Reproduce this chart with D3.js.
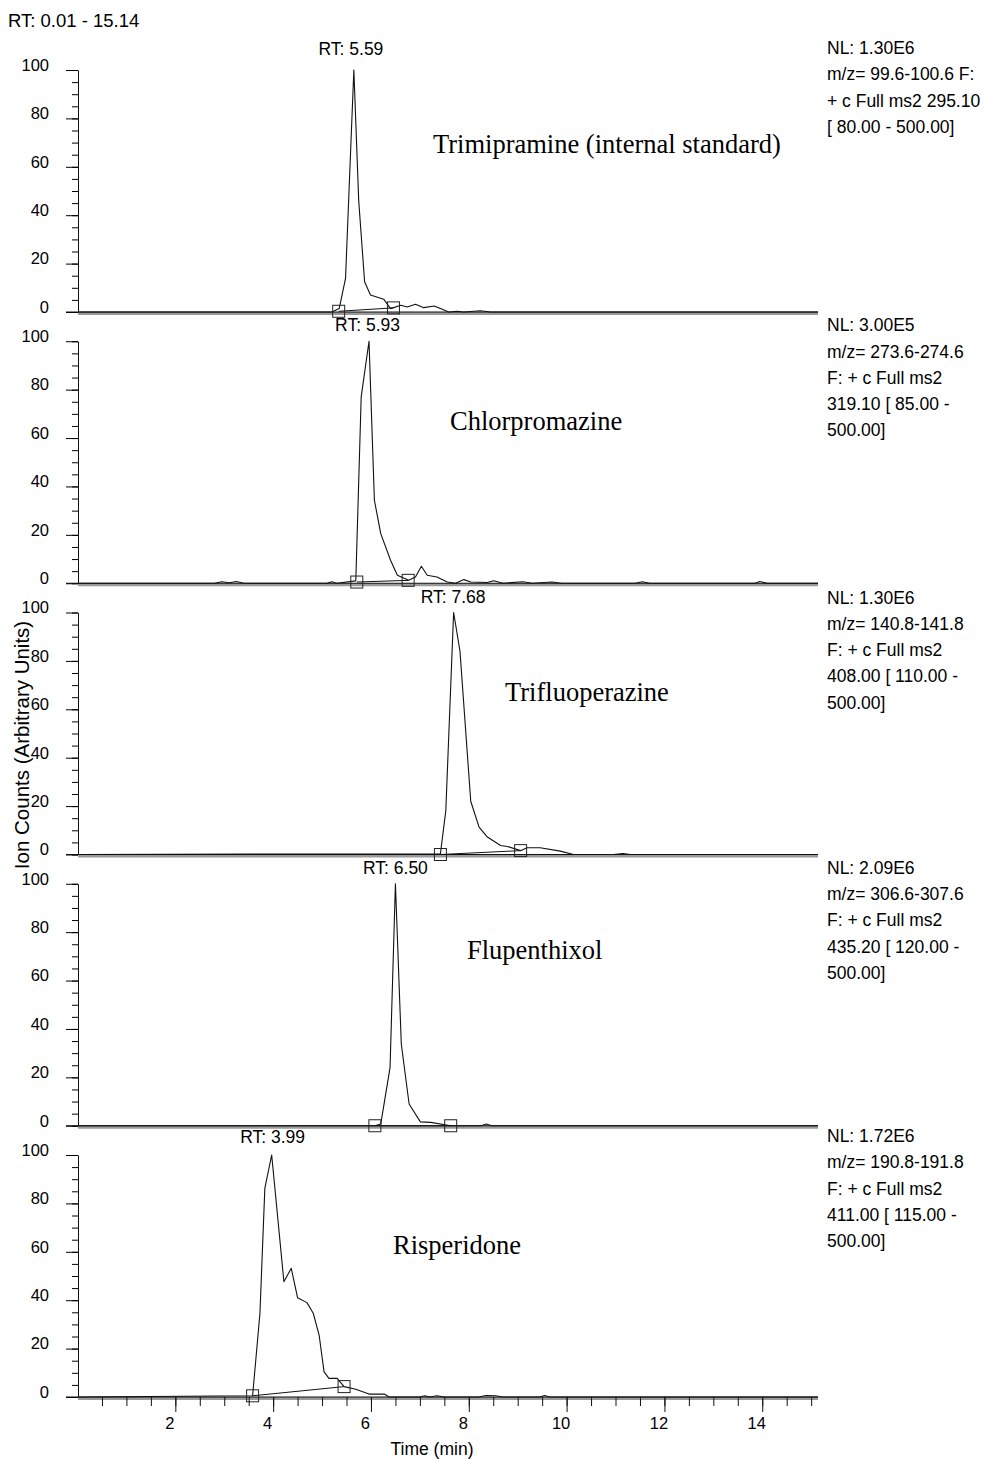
<!DOCTYPE html>
<html>
<head>
<meta charset="utf-8">
<script src="https://cdn.jsdelivr.net/npm/d3@7/dist/d3.min.js"></script>
<style>
    body { margin: 0; background: #fff; }
    svg { display: block; }
    .trace { fill: none; stroke: #111; stroke-width: 1.1; stroke-linejoin: round; }
    .baseBand { stroke: #9a9a9a; stroke-width: 3; }
    .baseLine { stroke: #111; stroke-width: 1; }
    .intLine { stroke: #111; stroke-width: 1; }
    .marker { fill: none; stroke: #222; stroke-width: 1; }
    .sans { font-family: 'Liberation Sans', Arial, sans-serif; font-size: 17.5px; fill: #000; }
    .tick-label { font-size: 16.5px; }
    .axis-title { font-size: 20.5px; }
    .range-title { font-size: 18.5px; }
    .serif { font-family: 'Liberation Serif', 'Times New Roman', serif; font-size: 26.5px; fill: #000; }
</style>
</head>
<body>
<script>
//data
var timeRange = [0.01, 15.14];
var compoundNames = ['Trimipramine (internal standard)', 'Chlorpromazine', 'Trifluoperazine', 'Flupenthixol', 'Risperidone'];
var retentionTimes = [5.59, 5.93, 7.68, 6.50, 3.99];
var nlTexts = [
    ['NL: 1.30E6', 'm/z= 99.6-100.6 F:', '+ c Full ms2 295.10', '[ 80.00 - 500.00]'],
    ['NL: 3.00E5', 'm/z= 273.6-274.6', 'F: + c Full ms2', '319.10 [ 85.00 -', '500.00]'],
    ['NL: 1.30E6', 'm/z= 140.8-141.8', 'F: + c Full ms2', '408.00 [ 110.00 -', '500.00]'],
    ['NL: 2.09E6', 'm/z= 306.6-307.6', 'F: + c Full ms2', '435.20 [ 120.00 -', '500.00]'],
    ['NL: 1.72E6', 'm/z= 190.8-191.8', 'F: + c Full ms2', '411.00 [ 115.00 -', '500.00]']
];
var yMajorTicks = [0, 20, 40, 60, 80, 100];
var yMinorTicks = d3.range(0, 101, 5);
var xMajorTicks = [2, 4, 6, 8, 10, 12, 14];
var xMinorTicks = d3.range(0.5, 15.01, 0.5);

// [time (min), relative abundance]
var trimipramine = [
    [0.01, 0], [5.2, 0], [5.35, 1.4], [5.48, 13.9], [5.65, 100], [5.75, 45.8], [5.87, 12.5],
    [5.99, 7], [6.26, 5.3], [6.40, 1.4], [6.61, 2.8], [6.74, 2.1], [6.91, 3.2], [7.08, 1.8],
    [7.29, 2.5], [7.42, 1.4], [7.59, 0], [7.76, 0.3], [7.90, 0], [8.24, 0.5], [8.44, 0], [15.14, 0]
];
var chlorpromazine = [
    [0.01, 0], [2.8, 0], [2.95, 0.6], [3.1, 0.2], [3.25, 0.7], [3.4, 0], [5.1, 0], [5.2, 0.6],
    [5.3, 0], [5.69, 1], [5.80, 77], [5.96, 100], [6.07, 34.3], [6.20, 20.5], [6.40, 9.5],
    [6.54, 3.3], [6.77, 1.2], [6.91, 2.6], [7.03, 7], [7.15, 3.3], [7.35, 2.6], [7.56, 0.5],
    [7.73, 0], [7.90, 1.5], [8.04, 0.5], [8.38, 0.3], [8.51, 1.0], [8.7, 0], [9.1, 0.6],
    [9.3, 0], [9.7, 0.5], [9.9, 0], [11.4, 0], [11.55, 0.6], [11.7, 0], [13.85, 0], [13.95, 0.7],
    [14.1, 0], [15.14, 0]
];
var trifluoperazine = [
    [0.01, 0], [7.42, 0.3], [7.53, 18], [7.69, 100], [7.82, 84], [8.04, 22], [8.21, 11.3],
    [8.38, 7.2], [8.65, 3.7], [8.79, 3.3], [9.06, 1.6], [9.19, 2.8], [9.46, 2.8], [9.87, 1.4],
    [10.14, 0], [10.96, 0], [11.15, 0.4], [11.3, 0], [15.14, 0]
];
var flupenthixol = [
    [0.01, 0], [6.08, 0], [6.20, 0.7], [6.39, 24], [6.50, 100], [6.62, 33.8], [6.78, 9],
    [7.01, 1.6], [7.22, 1.4], [7.63, 0], [8.25, 0], [8.36, 0.7], [8.47, 0], [15.14, 0]
];
var risperidone = [
    [0.01, 0], [3.58, 0.5], [3.73, 34.6], [3.83, 86.2], [3.97, 100], [4.22, 47.6], [4.37, 53.2],
    [4.50, 41], [4.69, 39], [4.82, 34.6], [4.94, 25.6], [5.04, 10.5], [5.14, 7.7], [5.31, 7.7],
    [5.45, 4.3], [5.69, 3.2], [5.96, 1.2], [6.27, 1.2], [6.37, 0], [7.0, 0], [7.1, 0.5], [7.2, 0],
    [7.35, 0.5], [7.5, 0], [8.2, 0], [8.35, 0.6], [8.55, 0.5], [8.7, 0], [9.45, 0], [9.55, 0.6],
    [9.65, 0], [15.14, 0]
];
var traces = [trimipramine, chlorpromazine, trifluoperazine, flupenthixol, risperidone];

// integration start / end points
var peakBounds = [
    [[5.34, 0.3], [6.46, 1.7]],
    [[5.71, 0.5], [6.76, 1.2]],
    [[7.42, 0], [9.06, 1.6]],
    [[6.08, 0], [7.63, 0]],
    [[3.58, 0.5], [5.45, 4.3]]
];
//end data

//layout
var width = 987;
var height = 1459;
var plotLeft = 78;
var plotRight = 818;
var firstTop = 70;
var panelStep = 271.25;
var panelHeight = 242;
var nameX = [433, 450, 505, 467, 393];
var nameDy = [83, 89, 88, 75, 99];
var rtDy = [-15, -10, -10, -10, -12];
var nlDy = [-16, -10, -9, -10, -13];

var svg = d3.select('body').append('svg')
    .attr('width', width)
    .attr('height', height);
svg.append('rect')
    .attr('width', width)
    .attr('height', height)
    .attr('fill', '#fff');

var xScale = d3.scaleLinear()
    .domain(timeRange)
    .range([plotLeft, plotRight]);

var line = d3.line()
    .x(function (d) { return xScale(d[0]); })
    .y(function (d) { return d[1]; });

svg.append('text')
    .attr('class', 'sans range-title')
    .attr('x', 8)
    .attr('y', 27)
    .text('RT: ' + timeRange[0].toFixed(2) + ' - ' + timeRange[1].toFixed(2));

traces.forEach(function (trace, p) {
    var top = firstTop + p * panelStep;
    var yScale = d3.scaleLinear()
        .domain([0, 100])
        .range([top + panelHeight, top]);
    var y0 = yScale(0);
    var g = svg.append('g').attr('class', 'panel');

    // y axis, minor then major ticks
    g.append('g')
        .attr('transform', 'translate(' + plotLeft + ',0)')
        .call(d3.axisLeft(yScale).tickValues(yMinorTicks).tickSize(6).tickSizeOuter(0).tickFormat(''))
        .call(function (a) { a.select('.domain').attr('stroke', '#111'); });
    var yAxis = g.append('g')
        .attr('transform', 'translate(' + plotLeft + ',0)')
        .call(d3.axisLeft(yScale).tickValues(yMajorTicks).tickSize(12).tickPadding(17).tickSizeOuter(0));
    yAxis.select('.domain').remove();
    yAxis.selectAll('text')
        .attr('class', 'sans tick-label')
        .attr('font-family', null)
        .attr('font-size', null)
        .attr('dy', '0.02em');

    // baseline
    g.append('line')
        .attr('class', 'baseBand')
        .attr('x1', plotLeft).attr('x2', plotRight)
        .attr('y1', y0 + 1.5).attr('y2', y0 + 1.5);
    g.append('line')
        .attr('class', 'baseLine')
        .attr('x1', plotLeft - 12).attr('x2', plotRight)
        .attr('y1', y0).attr('y2', y0);

    // chromatogram
    g.append('path')
        .datum(trace.map(function (d) { return [d[0], yScale(d[1])]; }))
        .attr('class', 'trace')
        .attr('d', line);

    // integration baseline and markers
    var bounds = peakBounds[p];
    g.append('line')
        .attr('class', 'intLine')
        .attr('x1', xScale(bounds[0][0])).attr('y1', yScale(bounds[0][1]))
        .attr('x2', xScale(bounds[1][0])).attr('y2', yScale(bounds[1][1]));
    g.selectAll('rect.marker')
        .data(bounds)
        .enter().append('rect')
        .attr('class', 'marker')
        .attr('x', function (d) { return xScale(d[0]) - 6; })
        .attr('y', function (d) { return yScale(d[1]) - 6; })
        .attr('width', 12)
        .attr('height', 12);

    // labels
    g.append('text')
        .attr('class', 'sans')
        .attr('text-anchor', 'middle')
        .attr('x', xScale(retentionTimes[p]))
        .attr('y', top + rtDy[p])
        .text('RT: ' + retentionTimes[p].toFixed(2));
    g.append('text')
        .attr('class', 'serif')
        .attr('x', nameX[p])
        .attr('y', top + nameDy[p])
        .text(compoundNames[p]);
    g.selectAll('text.nl')
        .data(nlTexts[p])
        .enter().append('text')
        .attr('class', 'sans nl')
        .attr('x', 827)
        .attr('y', function (d, i) { return top + nlDy[p] + i * 26.3; })
        .text(function (d) { return d; });

    // time axis on the last panel only
    if (p === traces.length - 1) {
        var xMinor = g.append('g')
            .attr('transform', 'translate(0,' + y0 + ')')
            .call(d3.axisBottom(xScale).tickValues(xMinorTicks).tickSize(9).tickSizeOuter(0).tickFormat(''));
        xMinor.select('.domain').remove();
        var xAxis = g.append('g')
            .attr('transform', 'translate(0,' + y0 + ')')
            .call(d3.axisBottom(xScale).tickValues(xMajorTicks).tickSize(15).tickPadding(5).tickSizeOuter(0));
        xAxis.select('.domain').remove();
        xAxis.selectAll('text')
            .attr('class', 'sans tick-label')
            .attr('font-family', null)
            .attr('font-size', null)
            .attr('dx', -6);
        xAxis.selectAll('line, path').attr('stroke', '#111');
        xMinor.selectAll('line').attr('stroke', '#111');
    }
});

svg.append('text')
    .attr('class', 'sans')
    .attr('text-anchor', 'middle')
    .attr('x', 432)
    .attr('y', 1455)
    .text('Time (min)');

svg.append('text')
    .attr('class', 'sans axis-title')
    .attr('text-anchor', 'middle')
    .attr('transform', 'translate(29,745) rotate(-90)')
    .text('Ion Counts (Arbitrary Units)');
</script>
</body>
</html>
